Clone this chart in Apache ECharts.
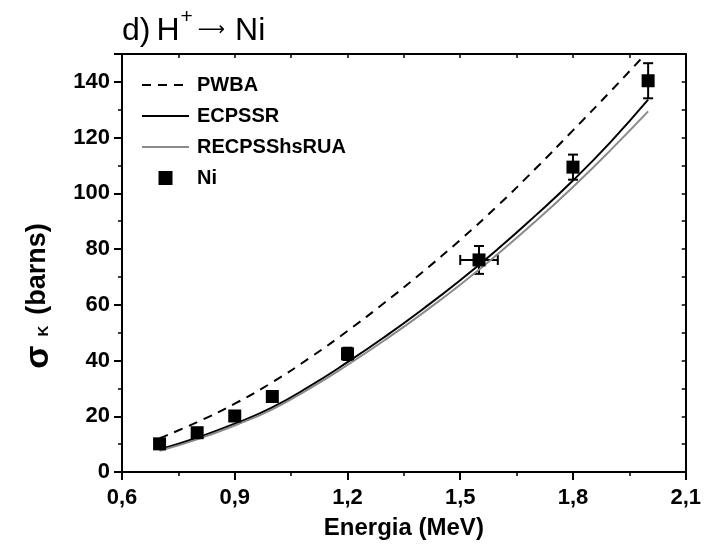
<!DOCTYPE html>
<html>
<head>
<meta charset="utf-8">
<script src="https://cdn.jsdelivr.net/npm/echarts@6/dist/echarts.min.js"></script>
<style>
html, body { margin: 0; padding: 0; background: #fff; }
#chart { width: 704px; height: 547px; }
</style>
</head>
<body>
<div id="chart"></div>
<script>
// theory curves, sampled every 0.1 MeV
var energies = [0.7, 0.8, 0.9, 1.0, 1.1, 1.2, 1.3, 1.4, 1.5, 1.6, 1.7, 1.8, 1.9, 2.0];
var pwba     = [12.1, 17.9, 24.5, 32.2, 41.0, 50.6, 60.9, 71.8, 83.3, 95.6, 108.8, 122.6, 136.6, 151.0];
var ecpssr   = [8.1, 12.3, 17.3, 23.2, 30.8, 39.4, 48.6, 58.4, 68.8, 80.0, 92.0, 104.6, 118.4, 133.6];
var recpss   = [7.6, 11.7, 16.7, 22.5, 30.0, 38.4, 47.4, 57.0, 67.2, 78.2, 89.9, 102.3, 115.5, 129.4];

// measured Ni points
var niE      = [0.7, 0.8, 0.9, 1.0, 1.2, 1.55, 1.8, 2.0];
var niSigma  = [10.1, 14.1, 20.1, 27.1, 42.4, 76.1, 109.4, 140.4];
var niErrY   = [1.2, 1.3, 1.5, 1.8, 2.2, 5.0, 4.5, 6.3];
var niErrX   = [0, 0, 0, 0, 0, 0.05, 0, 0];

var chart = echarts.init(document.getElementById('chart'));

function pairs(xs, ys) {
    return xs.map(function (x, i) { return [x, ys[i]]; });
}

var errData = niE.map(function (x, i) { return [x, niSigma[i], niErrY[i], niErrX[i]]; });
var font = '"Liberation Sans", Arial, sans-serif';
var noDot = { opacity: 0 };

chart.setOption({
    animation: false,
    title: {
        text: '{d|d)}{m|H}{sup|+}{arr|⟶}{m|Ni}',
        left: 117,
        top: 2,
        textStyle: {
            fontFamily: font,
            fontWeight: 'normal',
            fontSize: 32,
            color: '#000',
            rich: {
                d: { fontFamily: font, fontSize: 32, verticalAlign: 'bottom', padding: [0, 6, 0, 0], color: '#000' },
                m: { fontFamily: font, fontSize: 32, verticalAlign: 'bottom', color: '#000' },
                sup: { fontFamily: font, fontSize: 21, verticalAlign: 'bottom', padding: [0, 5, 19, 1], color: '#000' },
                arr: { fontFamily: '"DejaVu Sans", sans-serif', fontSize: 19, verticalAlign: 'bottom', padding: [0, 10, 7, 0], color: '#000' }
            }
        }
    },
    legend: {
        orient: 'vertical',
        left: 141,
        top: 75,
        padding: 0,
        itemWidth: 47,
        itemHeight: 14,
        itemGap: 11,
        symbolKeepAspect: true,
        data: [
            { name: 'PWBA', itemStyle: noDot },
            { name: 'ECPSSR', itemStyle: noDot },
            { name: 'RECPSShsRUA', itemStyle: noDot },
            { name: 'Ni', icon: 'path://M0,0H10V10H0Z', itemStyle: { color: '#000', opacity: 1 } }
        ],
        textStyle: { fontFamily: font, fontWeight: 'bold', fontSize: 20, color: '#000', padding: [0, 0, 0, 3] }
    },
    grid: { left: 122, right: 18, top: 54, bottom: 75 },
    xAxis: [{
        type: 'value',
        min: 0.6,
        max: 2.1,
        interval: 0.3,
        name: 'Energia (MeV)',
        nameLocation: 'middle',
        nameGap: 44,
        nameTextStyle: { fontFamily: font, fontWeight: 'bold', fontSize: 24, color: '#000' },
        axisLine: { lineStyle: { color: '#000', width: 2 } },
        axisTick: { length: 8, lineStyle: { color: '#000', width: 2 } },
        minorTick: { show: true, splitNumber: 2, length: 4, lineStyle: { color: '#000', width: 1.5 } },
        splitLine: { show: false },
        axisLabel: {
            margin: 15,
            fontFamily: font, fontWeight: 'bold', fontSize: 22, color: '#000',
            formatter: function (v) { return v.toFixed(1).replace('.', ','); }
        }
    }, {
        type: 'value',
        position: 'top',
        min: 0.6,
        max: 2.1,
        interval: 0.15,
        axisLine: { onZero: false, lineStyle: { color: '#000', width: 2 } },
        axisTick: { inside: true, length: 4, lineStyle: { color: '#000', width: 1.5 } },
        axisLabel: { show: false },
        splitLine: { show: false }
    }],
    yAxis: [{
        type: 'value',
        min: 0,
        max: 150,
        interval: 20,
        name: '{s|σ}{k|K}{b|(barns)}',
        nameLocation: 'middle',
        nameGap: 66,
        nameTextStyle: {
            fontFamily: font, fontWeight: 'bold', fontSize: 27, color: '#000',
            padding: [0, 66, 0, 0],
            rich: {
                s: { fontSize: 34, fontWeight: 'bold', fontFamily: font, verticalAlign: 'bottom' },
                k: { fontSize: 15, fontWeight: 'bold', fontFamily: font, verticalAlign: 'bottom', padding: [0, 11, 5, 9] },
                b: { fontSize: 27, fontWeight: 'bold', fontFamily: font, verticalAlign: 'bottom', padding: [0, 0, 5, 0] }
            }
        },
        axisLine: { show: true, lineStyle: { color: '#000', width: 2 } },
        axisTick: { show: true, length: 8, lineStyle: { color: '#000', width: 2 } },
        minorTick: { show: true, splitNumber: 2, length: 4, lineStyle: { color: '#000', width: 1.5 } },
        splitLine: { show: false },
        axisLabel: {
            margin: 12,
            showMaxLabel: false,
            fontFamily: font, fontWeight: 'bold', fontSize: 22, color: '#000',
            formatter: function (v) { return v % 20 === 0 ? String(v) : ''; }
        }
    }, {
        type: 'value',
        position: 'right',
        min: 0,
        max: 150,
        interval: 10,
        axisLine: { show: true, onZero: false, lineStyle: { color: '#000', width: 2 } },
        axisTick: { show: true, inside: true, length: 4, lineStyle: { color: '#000', width: 1.5 } },
        axisLabel: { show: false },
        splitLine: { show: false }
    }],
    series: [
        {
            name: 'PWBA',
            type: 'line',
            smooth: true,
            symbol: 'none',
            data: pairs(energies, pwba),
            lineStyle: { color: '#000', width: 2, type: [9, 7] },
            itemStyle: { color: '#000' }
        },
        {
            name: 'ECPSSR',
            type: 'line',
            smooth: true,
            symbol: 'none',
            data: pairs(energies, ecpssr),
            lineStyle: { color: '#000', width: 2 },
            itemStyle: { color: '#000' }
        },
        {
            name: 'RECPSShsRUA',
            type: 'line',
            smooth: true,
            symbol: 'none',
            data: pairs(energies, recpss),
            lineStyle: { color: '#8a8a8a', width: 2 },
            itemStyle: { color: '#8a8a8a' }
        },
        {
            name: 'Ni',
            type: 'custom',
            data: errData,
            renderItem: function (params, api) {
                var x = api.value(0), y = api.value(1), ey = api.value(2), ex = api.value(3);
                var top = api.coord([x, y + ey]);
                var bot = api.coord([x, y - ey]);
                var style = { stroke: '#000', lineWidth: 2 };
                var children = [
                    { type: 'line', shape: { x1: top[0], y1: top[1], x2: bot[0], y2: bot[1] }, style: style },
                    { type: 'line', shape: { x1: top[0] - 5, y1: top[1], x2: top[0] + 5, y2: top[1] }, style: style },
                    { type: 'line', shape: { x1: bot[0] - 5, y1: bot[1], x2: bot[0] + 5, y2: bot[1] }, style: style }
                ];
                if (ex > 0) {
                    var l = api.coord([x - ex, y]);
                    var r = api.coord([x + ex, y]);
                    children.push(
                        { type: 'line', shape: { x1: l[0], y1: l[1], x2: r[0], y2: r[1] }, style: style },
                        { type: 'line', shape: { x1: l[0], y1: l[1] - 5, x2: l[0], y2: l[1] + 5 }, style: style },
                        { type: 'line', shape: { x1: r[0], y1: r[1] - 5, x2: r[0], y2: r[1] + 5 }, style: style }
                    );
                }
                return { type: 'group', children: children };
            },
            itemStyle: { color: '#000' },
            z: 3
        },
        {
            name: 'Ni',
            type: 'scatter',
            symbol: 'rect',
            symbolSize: 13,
            data: pairs(niE, niSigma),
            itemStyle: { color: '#000', opacity: 1 },
            z: 4
        }
    ]
});
</script>
</body>
</html>
